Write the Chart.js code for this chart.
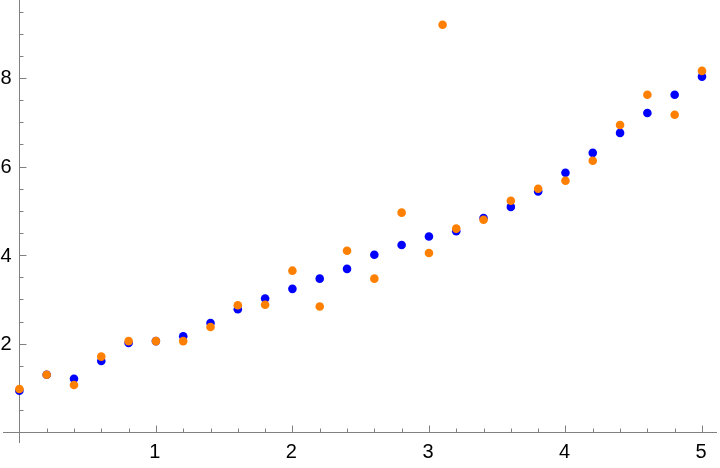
<!DOCTYPE html>
<html>
<head>
<meta charset="utf-8">
<script src="https://cdn.jsdelivr.net/npm/chart.js@4/dist/chart.umd.min.js"></script>
<style>
  html, body { margin: 0; padding: 0; background: #fff; }
  #wrap { width: 720px; height: 468px; }
</style>
</head>
<body>
<div id="wrap"><canvas id="chart"></canvas></div>
<script>
const blueX = [0, 0.2, 0.4, 0.6, 0.8, 1.0, 1.2, 1.4, 1.6, 1.8, 2.0, 2.2, 2.4,
  2.6, 2.8, 3.0, 3.2, 3.4, 3.6, 3.8, 4.0, 4.2, 4.4, 4.6, 4.8, 5.0];
const blueY = [0.94, 1.30, 1.21, 1.61, 2.02, 2.06, 2.17, 2.47, 2.78, 3.02, 3.24,
  3.47, 3.69, 4.01, 4.23, 4.42, 4.54, 4.84, 5.09, 5.44, 5.86, 6.31, 6.76, 7.21, 7.62, 8.03];

const orangeX = [0, 0.2, 0.4, 0.6, 0.8, 1.0, 1.2, 1.4, 1.6, 1.8, 2.0, 2.2, 2.4,
  2.6, 2.8, 3.0, 3.1, 3.2, 3.4, 3.6, 3.8, 4.0, 4.2, 4.4, 4.6, 4.8, 5.0];
const orangeY = [0.98, 1.30, 1.07, 1.71, 2.06, 2.06, 2.06, 2.38, 2.87, 2.88, 3.65,
  2.84, 4.10, 3.47, 4.96, 4.05, 9.20, 4.60, 4.80, 5.23, 5.50, 5.68, 6.13, 6.94, 7.62, 7.17, 8.16];

const xTicks = [1, 2, 3, 4, 5];
const yTicks = [2, 4, 6, 8];
const xMinorStep = 0.2;
const yMinorStep = 0.5;

const toPoints = (xs, ys) => xs.map((x, i) => ({ x: x, y: ys[i] }));

// Mathematica-like axes crossing at the origin
const AxesPlugin = {
  id: 'originAxes',
  beforeDatasetsDraw: (chart) => {
    const { ctx, chartArea, scales } = chart;
    const xs = scales.x, ys = scales.y;
    const x0 = Math.round(xs.getPixelForValue(0)) + 0.5;
    const y0 = Math.round(ys.getPixelForValue(0)) + 0.5;

    ctx.save();
    ctx.strokeStyle = '#808080';
    ctx.lineWidth = 1;
    ctx.beginPath();
    ctx.moveTo(chartArea.left, y0);
    ctx.lineTo(chartArea.right, y0);
    ctx.moveTo(x0, chartArea.top);
    ctx.lineTo(x0, chartArea.bottom);

    // x ticks (pointing up)
    const xStart = Math.ceil(xs.min / xMinorStep);
    const xEnd = Math.floor(xs.max / xMinorStep);
    for (let i = xStart; i <= xEnd; i++) {
      const v = +(i * xMinorStep).toFixed(4);
      if (v === 0) continue;
      const px = Math.round(xs.getPixelForValue(v)) + 0.5;
      const len = Number.isInteger(v) ? 7 : 4;
      ctx.moveTo(px, y0);
      ctx.lineTo(px, y0 - len);
    }
    // y ticks (pointing right)
    const yStart = Math.ceil(ys.min / yMinorStep);
    const yEnd = Math.floor(ys.max / yMinorStep);
    for (let i = yStart; i <= yEnd; i++) {
      const v = +(i * yMinorStep).toFixed(4);
      if (v === 0) continue;
      const py = Math.round(ys.getPixelForValue(v)) + 0.5;
      const len = (v % 2 === 0) ? 7 : 4;
      ctx.moveTo(x0, py);
      ctx.lineTo(x0 + len, py);
    }
    ctx.stroke();

    ctx.fillStyle = '#000';
    ctx.font = '20px "Liberation Sans", Arial, sans-serif';
    ctx.textAlign = 'center';
    ctx.textBaseline = 'top';
    xTicks.forEach((t) => {
      ctx.fillText(String(t), xs.getPixelForValue(t) - 1, y0 + 10);
    });
    ctx.textAlign = 'right';
    ctx.textBaseline = 'middle';
    yTicks.forEach((t) => {
      ctx.fillText(String(t), x0 - 8, ys.getPixelForValue(t) + 1);
    });
    ctx.restore();
  }
};

new Chart(document.getElementById('chart').getContext('2d'), {
  type: 'scatter',
  data: {
    datasets: [
      {
        label: 'orange',
        data: toPoints(orangeX, orangeY),
        backgroundColor: '#ff8000',
        borderWidth: 0,
        pointRadius: 4.3,
        clip: false,
        order: 0
      },
      {
        label: 'blue',
        data: toPoints(blueX, blueY),
        backgroundColor: '#0000ff',
        borderWidth: 0,
        pointRadius: 4.3,
        clip: false,
        order: 1
      }
    ]
  },
  options: {
    responsive: true,
    maintainAspectRatio: false,
    animation: false,
    layout: { autoPadding: false, padding: { left: 3, right: 3, top: 0, bottom: 25 } },
    scales: {
      x: { type: 'linear', min: -0.12, max: 5.11, display: false },
      y: { type: 'linear', min: -0.24, max: 9.76, display: false }
    },
    plugins: {
      legend: { display: false },
      tooltip: { enabled: false }
    }
  },
  plugins: [AxesPlugin]
});
</script>
</body>
</html>
